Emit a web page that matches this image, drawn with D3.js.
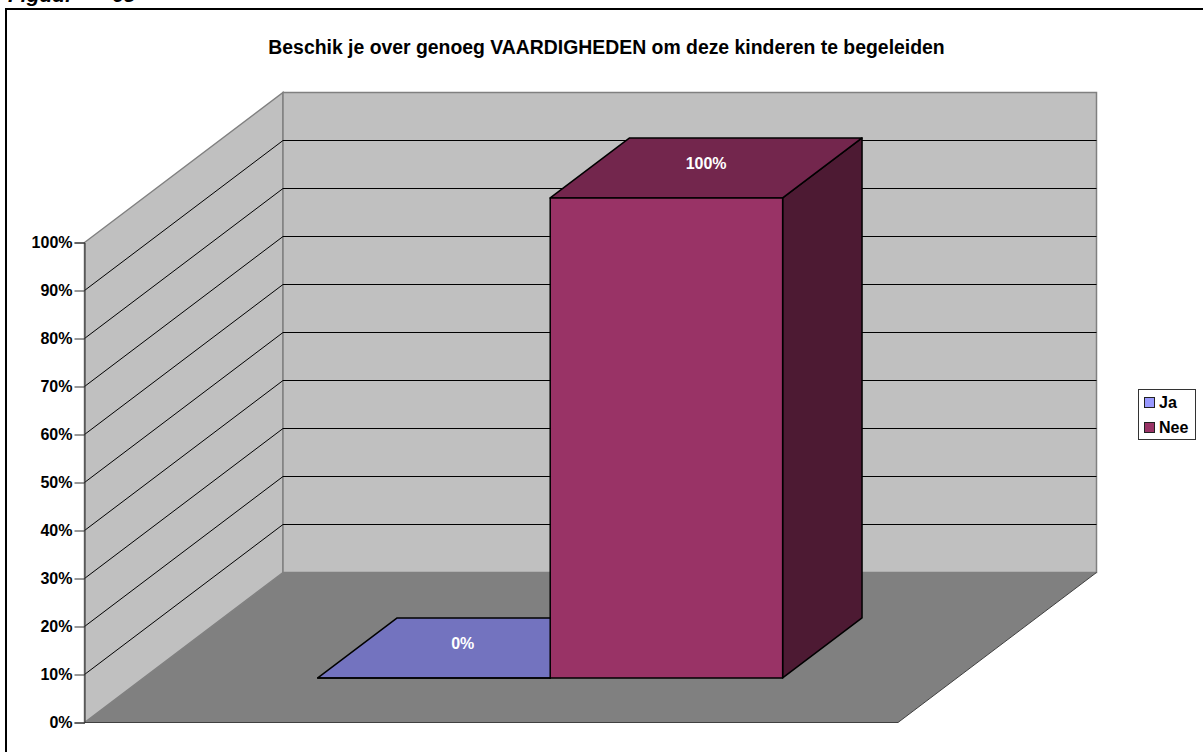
<!DOCTYPE html>
<html>
<head>
<meta charset="utf-8">
<script src="https://cdn.jsdelivr.net/npm/d3@7"></script>
<style>
html, body { margin: 0; padding: 0; background: #fff; overflow: hidden; }
text { font-family: "Liberation Sans", Arial, sans-serif; font-weight: bold; }
</style>
</head>
<body>
<div id="chart"></div>
<script>
const chartTitle = "Beschik je over genoeg VAARDIGHEDEN om deze kinderen te begeleiden";
const seriesNames = ["Ja", "Nee"];
const seriesValues = [0, 100];
const seriesLabels = ["0%", "100%"];
const seriesColors = ["#9999ff", "#993366"];
const topColors = ["#7373bf", "#73264d"];
const sideColors = ["#4d4d80", "#4d1a33"];
const yTicks = [0, 10, 20, 30, 40, 50, 60, 70, 80, 90, 100];

const width = 1203;
const height = 752;

const svg = d3.select("#chart")
    .append("svg")
    .attr("width", width)
    .attr("height", height);

// Caption cut off by the top of the picture
svg.append("text")
    .attr("x", 8)
    .attr("y", 2)
    .style("font-size", "21px")
    .style("font-style", "italic")
    .text("Figuur");
svg.append("text")
    .attr("x", 112)
    .attr("y", 2)
    .style("font-size", "21px")
    .style("font-style", "italic")
    .text("65");

// Outer frame, right and bottom sides run off the picture
svg.append("rect")
    .attr("x", 6)
    .attr("y", 9)
    .attr("width", 1300)
    .attr("height", 800)
    .attr("fill", "#fff")
    .attr("stroke", "#000")
    .attr("stroke-width", 2);

// Plot box: front plane and how far the back wall is shifted
const front = { left: 84.5, right: 898, bottom: 722.5, top: 242.5 };
const depth = { x: 198.5, y: -150 };

const y = d3.scaleLinear().domain([0, 100]).range([front.bottom, front.top]);
const x = d3.scaleBand()
    .domain(seriesNames)
    .range([front.left, front.right])
    .paddingInner(0)
    .paddingOuter(0.75);

// Shift a point back by a fraction of the depth
const pt = (px, py, f) => [px + depth.x * f, py + depth.y * f];
const poly = pts => "M" + pts.map(p => p.join(",")).join("L") + "Z";

// Side wall
svg.append("path")
    .attr("d", poly([pt(front.left, y(0), 0), pt(front.left, y(100), 0), pt(front.left, y(100), 1), pt(front.left, y(0), 1)]))
    .attr("fill", "#c0c0c0")
    .attr("stroke", "#808080")
    .attr("stroke-width", 1.5);

// Back wall
svg.append("path")
    .attr("d", poly([pt(front.left, y(0), 1), pt(front.left, y(100), 1), pt(front.right, y(100), 1), pt(front.right, y(0), 1)]))
    .attr("fill", "#c0c0c0")
    .attr("stroke", "#808080")
    .attr("stroke-width", 1.5);

// Floor
svg.append("path")
    .attr("d", poly([pt(front.left, y(0), 0), pt(front.right, y(0), 0), pt(front.right, y(0), 1), pt(front.left, y(0), 1)]))
    .attr("fill", "#808080");

// Gridlines on both walls
svg.append("g")
    .selectAll("path")
    .data(yTicks.filter(d => d > 0 && d < 100))
    .enter()
    .append("path")
    .attr("d", d => d3.line()([pt(front.left, y(d), 0), pt(front.left, y(d), 1), pt(front.right, y(d), 1)]))
    .attr("fill", "none")
    .attr("stroke", "#000")
    .attr("stroke-width", 1);

// Floor edges
svg.append("path")
    .attr("d", d3.line()([pt(front.left, y(0), 0), pt(front.right, y(0), 0), pt(front.right, y(0), 1)]))
    .attr("fill", "none")
    .attr("stroke", "#404040")
    .attr("stroke-width", 1);

// Value axis
const axis = svg.append("g")
    .attr("transform", `translate(${front.left},0)`)
    .call(d3.axisLeft(y).tickValues(yTicks).tickSize(10).tickPadding(2).tickFormat(d => d + "%"));
axis.selectAll("text")
    .attr("fill", "#000")
    .style("font-size", "16px")
    .style("font-family", '"Liberation Sans", Arial, sans-serif');
axis.selectAll("line").attr("stroke", "#333").attr("stroke-width", 1);
axis.select(".domain").attr("stroke", "#333").attr("stroke-width", 1);

// Bars sit between 30% and 70% of the floor depth
const nearF = 0.297;
const farF = 0.697;
const bars = svg.append("g")
    .selectAll("g")
    .data(seriesNames.map((name, i) => ({ name, value: seriesValues[i], label: seriesLabels[i], i })))
    .enter()
    .append("g")
    .attr("stroke", "#000")
    .attr("stroke-width", 1.5)
    .attr("stroke-linejoin", "round");

bars.append("path")
    .attr("d", d => {
        const l = x(d.name), r = l + x.bandwidth();
        return poly([pt(r, y(0), nearF), pt(r, y(d.value), nearF), pt(r, y(d.value), farF), pt(r, y(0), farF)]);
    })
    .attr("fill", d => sideColors[d.i]);

bars.append("path")
    .attr("d", d => {
        const l = x(d.name), r = l + x.bandwidth();
        return poly([pt(l, y(d.value), nearF), pt(r, y(d.value), nearF), pt(r, y(d.value), farF), pt(l, y(d.value), farF)]);
    })
    .attr("fill", d => topColors[d.i]);

bars.append("path")
    .attr("d", d => {
        const l = x(d.name), r = l + x.bandwidth();
        return poly([pt(l, y(0), nearF), pt(r, y(0), nearF), pt(r, y(d.value), nearF), pt(l, y(d.value), nearF)]);
    })
    .attr("fill", d => seriesColors[d.i]);

// Value labels in the middle of each bar top, the 0% one sits left of the hidden part
bars.append("text")
    .attr("x", d => pt(x(d.name) + x.bandwidth() / 2, 0, (nearF + farF) / 2)[0] - (d.value === 0 ? 11 : 0))
    .attr("y", d => pt(0, y(d.value), (nearF + farF) / 2)[1] + 1)
    .attr("text-anchor", "middle")
    .attr("fill", "#fff")
    .attr("stroke", "none")
    .style("font-size", "16px")
    .text(d => d.label);

// Chart title
svg.append("text")
    .attr("x", 606.5)
    .attr("y", 54)
    .attr("text-anchor", "middle")
    .style("font-size", "19.4px")
    .text(chartTitle);

// Legend
const legend = svg.append("g");
legend.append("rect")
    .attr("x", 1138.5)
    .attr("y", 389.5)
    .attr("width", 57)
    .attr("height", 50)
    .attr("fill", "#fff")
    .attr("stroke", "#333")
    .attr("stroke-width", 1);
legend.selectAll(".key")
    .data(seriesNames)
    .enter()
    .append("rect")
    .attr("class", "key")
    .attr("x", 1144.5)
    .attr("y", (d, i) => 397.5 + i * 25)
    .attr("width", 10)
    .attr("height", 10)
    .attr("fill", (d, i) => seriesColors[i])
    .attr("stroke", "#222")
    .attr("stroke-width", 1);
legend.selectAll(".name")
    .data(seriesNames)
    .enter()
    .append("text")
    .attr("class", "name")
    .attr("x", 1159)
    .attr("y", (d, i) => 408 + i * 25)
    .style("font-size", "16px")
    .text(d => d);
</script>
</body>
</html>
